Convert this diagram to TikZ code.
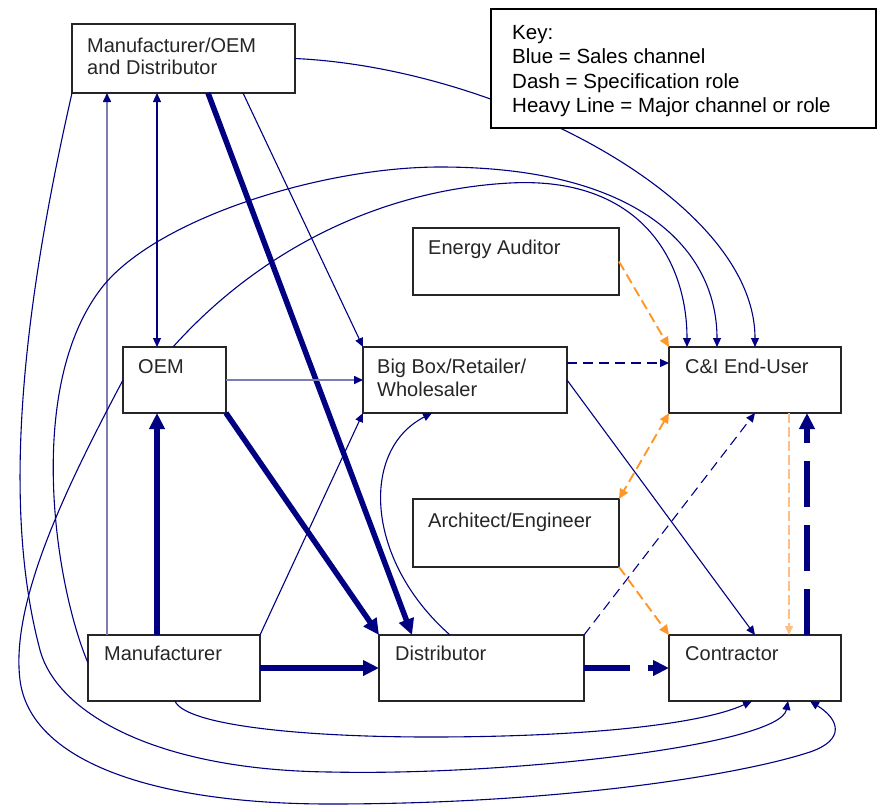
\documentclass[tikz,border=0pt]{standalone}
\usepackage{fontspec}
\setmainfont{Liberation Sans}
\usetikzlibrary{arrows.meta}
\definecolor{navy}{RGB}{0,0,128}
\definecolor{lnavy}{RGB}{125,125,180}
\definecolor{orng}{RGB}{255,150,40}
\definecolor{lorng}{RGB}{255,190,130}
\begin{document}
\begin{tikzpicture}[x=1pt,y=-1pt,
  box/.style={draw=black!85, line width=1.3pt, fill=white, inner sep=0pt, outer sep=0pt},
  txt/.style={anchor=base west, inner sep=0pt, font=\fontsize{20}{24}\selectfont, text=black!85},
  ktxt/.style={anchor=base west, inner sep=0pt, font=\fontsize{20.5}{24}\selectfont, text=black},
  ln/.style={draw=navy, line width=1.1pt, -{Triangle[length=9pt,width=8pt]}},
  lnl/.style={draw=lnavy, line width=1.6pt, -{Triangle[length=9pt,width=8pt,color=navy]}},
  thk/.style={draw=navy, line width=5.5pt, -{Triangle[length=16pt,width=15pt]}},
  thkd/.style={thk, dash pattern=on 46pt off 18pt},
  dsh/.style={ln, dash pattern=on 10pt off 6pt},
  orx/.style={draw=orng, line width=1.9pt, dash pattern=on 10pt off 5pt, -{Triangle[length=10pt,width=9pt]}},
  orb/.style={orx, {Triangle[length=10pt,width=9pt]}-{Triangle[length=10pt,width=9pt]}},
  orl/.style={draw=lorng, line width=1.4pt, dash pattern=on 10pt off 4pt, -{Triangle[length=9pt,width=8pt]}}
]
\useasboundingbox (0,0) rectangle (878,806);

% boxes
\node[box, minimum width=223pt, minimum height=69pt] (mod) at (183.5,58.5) {};
\node[txt] (modt1) at (87,52) {Manufacturer/OEM};
\node[txt] (modt2) at (87,74) {and Distributor};
\node[box, minimum width=206pt, minimum height=67pt] (ea) at (516,261.5) {};
\node[txt] (eat) at (428,254) {Energy Auditor};
\node[box, minimum width=103pt, minimum height=66pt] (oem) at (174.5,380) {};
\node[txt] (oemt) at (138,373) {OEM};
\node[box, minimum width=204pt, minimum height=66pt] (bb) at (465,380) {};
\node[txt] (bbt1) at (377,373) {Big Box/Retailer/};
\node[txt] (bbt2) at (377,396) {Wholesaler};
\node[box, minimum width=172pt, minimum height=66pt] (ci) at (755,380) {};
\node[txt] (cit) at (685,373) {C\&I End-User};
\node[box, minimum width=206pt, minimum height=68pt] (ae) at (516,533) {};
\node[txt] (aet) at (428,527) {Architect/Engineer};
\node[box, minimum width=172pt, minimum height=66pt] (man) at (174,668) {};
\node[txt] (mant) at (104,660) {Manufacturer};
\node[box, minimum width=205pt, minimum height=66pt] (dist) at (481.5,668) {};
\node[txt] (distt) at (395,660) {Distributor};
\node[box, minimum width=172pt, minimum height=66pt] (con) at (755,668) {};
\node[txt] (cont) at (685,660) {Contractor};

% straight connectors
\draw[lnl] ([xshift=19pt]man.north west) -- ([xshift=35pt]mod.south west);
\draw[thk] ([xshift=-17pt]man.north) -- ([xshift=-17.5pt]oem.south);
\draw[ln, {Triangle[length=9pt,width=8pt]}-{Triangle[length=9pt,width=8pt]}] ([xshift=85pt]mod.south west) -- ([xshift=-17.5pt]oem.north);
\draw[thk] ([xshift=136pt]mod.south west) -- ([xshift=33pt]dist.north west);
\draw[ln] ([xshift=171pt]mod.south west) -- (bb.north west);
\draw[thk] (oem.south east) -- (dist.north west);
\draw[lnl] (oem.east) -- (bb.west);
\draw[ln] (man.north east) -- (bb.south west);
\draw[ln] ([xshift=71pt]dist.north west) .. controls (365,560) and (360,450) .. ([xshift=69pt]bb.south west);
\draw[thk] (man.east) -- (dist.west);
\draw[thkd] (dist.east) -- (con.west);
\draw[thkd] ([xshift=52pt]con.north) -- ([xshift=52pt]ci.south);
\draw[dsh] ([yshift=17pt]bb.east) -- ([yshift=17pt]ci.west);
\draw[ln] (bb.east) -- (con.north);
\draw[dsh] (dist.north east) -- (ci.south);
\draw[orx] (ea.east) -- (ci.north west);
\draw[orb] (ci.south west) -- (ae.north east);
\draw[orx] (ae.south east) -- (con.north west);
\draw[orl] ([xshift=34pt]ci.south) -- ([xshift=34pt]con.north);

% curved connectors
\draw[ln] (mod.east) .. controls (500,68) and (755,200) .. (ci.north);
\draw[ln] ([xshift=-1.5pt]oem.north) .. controls (260,250) and (380,190) .. (510,183)
  .. controls (640,176) and (687,260) .. ([xshift=-68pt]ci.north);
\draw[ln] ([yshift=5pt]man.west) .. controls (55,585) and (25,390) .. (100,290)
  .. controls (152,220) and (320,167) .. (440,167)
  .. controls (640,167) and (717,250) .. ([xshift=-38pt]ci.north);
\draw[ln] (mod.south west) .. controls (25,300) and (0,500) .. (40,650)
  .. controls (56,710) and (150,770) .. (330,772)
  .. controls (510,776) and (780,745) .. ([xshift=33pt]con.south);
\draw[ln] (oem.west) .. controls (70,480) and (10,600) .. (20,680)
  .. controls (30,760) and (150,804) .. (330,804)
  .. controls (560,804) and (740,775) .. (810,752)
  .. controls (845,740) and (840,720) .. ([xshift=55pt]con.south);
\draw[ln] ([xshift=1pt]man.south) .. controls (185,725) and (300,737) .. (430,737)
  .. controls (580,737) and (700,725) .. ([xshift=-3pt]con.south);

% key
\node[box, line width=2pt, draw=black, minimum width=385pt, minimum height=119pt] (key) at (683.5,68.5) {};
\node[ktxt] (k1) at (512,39) {Key:};
\node[ktxt] (k2) at (512,63) {Blue = Sales channel};
\node[ktxt] (k3) at (512,88) {Dash = Specification role};
\node[ktxt] (k4) at (512,112) {Heavy Line = Major channel or role};
\end{tikzpicture}
\end{document}
